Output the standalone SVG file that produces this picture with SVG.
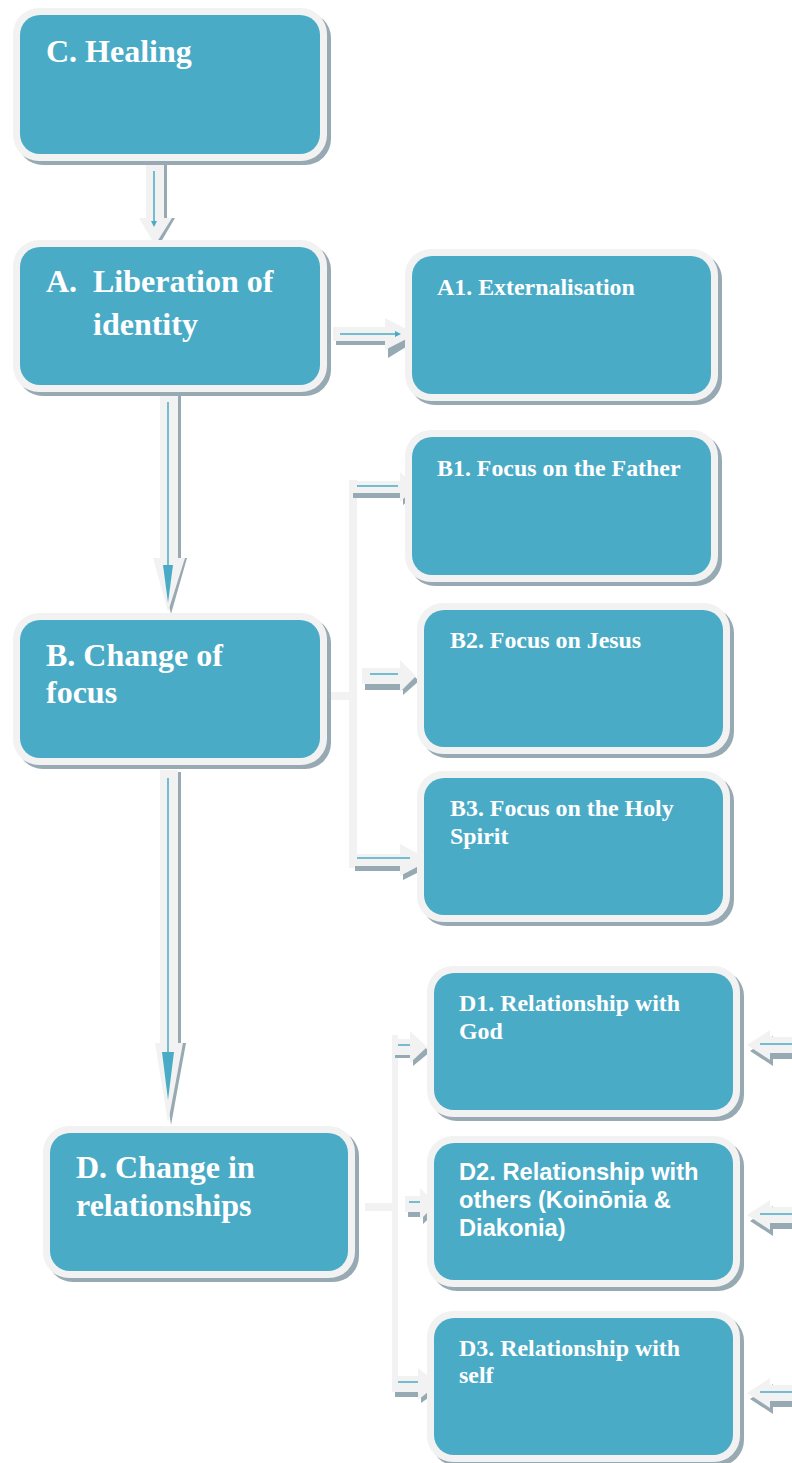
<svg xmlns="http://www.w3.org/2000/svg" width="792" height="1463" viewBox="0 0 792 1463">
<style>
.sh{fill:#97a9b2}
.ob{fill:#f2f2f2}
.ib{fill:#4aabc6}
.t{font-family:"Liberation Serif","Times New Roman",serif;font-weight:bold;fill:#ffffff}
.big{font-size:32px}
.sm{font-size:23.9px}
.sans{font-family:"Liberation Sans",Arial,sans-serif;font-weight:bold;font-size:23.7px;fill:#ffffff}
.ar{fill:#f2f2f2}
.as{fill:#97a9b2}
.bl{stroke:#4aabc6;stroke-width:1.5;fill:none}
.bh{fill:#4aabc6}
.fk{fill:#f2f2f2}
</style>
<rect width="792" height="1463" fill="#ffffff"/>
<g id="connectors">
  <!-- C to A -->
  <path class="as" d="M150 165 H167 V218 H175 L158 247 L143 218 H150 Z"/>
  <path class="ar" d="M146 163 H164 V218 H172 L155 245 L139 218 H146 Z"/>
  <line class="bl" x1="154" y1="171" x2="154" y2="222"/>
  <path class="bh" d="M151 221 H157 L154 227 Z"/>
  <!-- A to B -->
  <path class="as" d="M164 394 H181 V558 H187 L171 614 L157 558 H164 Z"/>
  <path class="ar" d="M160 392 H178 V558 H185 L168 612 L153 558 H160 Z"/>
  <line class="bl" x1="168" y1="402" x2="168" y2="567"/>
  <path class="bh" d="M163 565 H173 L168 603 Z"/>
  <!-- B to D -->
  <path class="as" d="M164 772 H181 V1043 H186 L171 1125 L159 1043 H164 Z"/>
  <path class="ar" d="M160 770 H178 V1043 H183 L168 1123 L155 1043 H160 Z"/>
  <line class="bl" x1="168" y1="778" x2="168" y2="1054"/>
  <path class="bh" d="M162 1052 H174 L168 1100 Z"/>
  <!-- A to A1 -->
  <path class="as" d="M336 332 H388 V321 L419 339 L388 358 V345 H336 Z"/>
  <path class="ar" d="M333 327 H385 V318 L416 334 L385 350 V341 H333 Z"/>
  <line class="bl" x1="340" y1="334" x2="396" y2="334"/>
  <path class="bh" d="M395 331 L401 334 L395 337 Z"/>
  <!-- B fork -->
  <rect class="fk" x="326" y="692" width="31" height="8"/>
  <rect class="fk" x="349" y="480" width="8" height="388"/>
  <path class="as" d="M353 486 H403 V477 L419 492 L403 505 V498 H353 Z"/>
  <path class="ar" d="M350 481 H400 V472 L416 487 L400 502 V493 H350 Z"/>
  <line class="bl" x1="357" y1="486" x2="398" y2="486"/>
  <path class="as" d="M365 674 H403 V665 L419 681 L403 695 V690 H365 Z"/>
  <path class="ar" d="M362 668 H400 V660 L416 676 L400 692 V684 H362 Z"/>
  <line class="bl" x1="370" y1="674" x2="398" y2="674"/>
  <path class="as" d="M355 859 H403 V849 L433 865 L403 880 V871 H355 Z"/>
  <path class="ar" d="M352 854 H400 V844 L430 860 L400 876 V866 H352 Z"/>
  <line class="bl" x1="357" y1="858" x2="410" y2="858"/>
  <!-- D fork -->
  <rect class="fk" x="365" y="1203" width="33" height="8"/>
  <rect class="fk" x="392" y="1035" width="6" height="355"/>
  <path class="as" d="M395 1045 H413 V1036 L430 1052 L413 1066 V1058 H395 Z"/>
  <path class="ar" d="M392 1039 H410 V1031 L427 1047 L410 1063 V1055 H392 Z"/>
  <line class="bl" x1="398" y1="1045" x2="410" y2="1045"/>
  <path class="as" d="M408 1202 H423 V1192 L439 1209 L423 1224 V1217 H408 Z"/>
  <path class="ar" d="M405 1196 H420 V1188 L436 1204 L420 1220 V1212 H405 Z"/>
  <line class="bl" x1="409" y1="1202" x2="420" y2="1202"/>
  <path class="as" d="M395 1382 H421 V1373 L441 1389 L421 1403 V1397 H395 Z"/>
  <path class="ar" d="M392 1376 H418 V1368 L438 1384 L418 1400 V1392 H392 Z"/>
  <line class="bl" x1="398" y1="1382" x2="418" y2="1382"/>
  <!-- Right edge arrows -->
  <path class="as" d="M792 1043 H773 V1036 L750 1051 L773 1066 V1059 H792 Z"/>
  <path class="ar" d="M792 1037 H770 V1030 L747 1045 L770 1060 V1053 H792 Z"/>
  <line class="bl" x1="760" y1="1044" x2="792" y2="1044"/>
  <path class="as" d="M792 1213 H773 V1206 L750 1221 L773 1236 V1229 H792 Z"/>
  <path class="ar" d="M792 1207 H770 V1200 L747 1215 L770 1230 V1223 H792 Z"/>
  <line class="bl" x1="760" y1="1214" x2="792" y2="1214"/>
  <path class="as" d="M792 1391 H773 V1384 L750 1399 L773 1414 V1407 H792 Z"/>
  <path class="ar" d="M792 1385 H770 V1378 L747 1393 L770 1408 V1401 H792 Z"/>
  <line class="bl" x1="760" y1="1392" x2="792" y2="1392"/>
</g>
<g id="nodeC">
  <rect class="sh" x="17" y="12" width="314" height="153" rx="26"/>
  <rect class="ob" x="13" y="8" width="314" height="153" rx="26"/>
  <rect class="ib" x="20" y="15" width="300" height="139" rx="20"/>
  <text class="t big" x="46" y="62">C. Healing</text>
</g>
<g id="nodeA">
  <rect class="sh" x="17" y="244" width="314" height="152" rx="26"/>
  <rect class="ob" x="13" y="240" width="314" height="152" rx="26"/>
  <rect class="ib" x="20" y="247" width="300" height="138" rx="20"/>
  <text class="t big" x="46" y="292">A.</text>
  <text class="t big" x="93" y="292">Liberation of</text>
  <text class="t big" x="93" y="335">identity</text>
</g>
<g id="nodeA1">
  <rect class="sh" x="409" y="253" width="313" height="152" rx="26"/>
  <rect class="ob" x="405" y="249" width="313" height="152" rx="26"/>
  <rect class="ib" x="412" y="256" width="299" height="138" rx="20"/>
  <text class="t sm" x="437" y="295">A1. Externalisation</text>
</g>
<g id="nodeB1">
  <rect class="sh" x="409" y="434" width="313" height="152" rx="26"/>
  <rect class="ob" x="405" y="430" width="313" height="152" rx="26"/>
  <rect class="ib" x="412" y="437" width="299" height="138" rx="20"/>
  <text class="t sm" x="437" y="476">B1. Focus on the Father</text>
</g>
<g id="nodeB">
  <rect class="sh" x="17" y="617" width="314" height="152" rx="26"/>
  <rect class="ob" x="13" y="613" width="314" height="152" rx="26"/>
  <rect class="ib" x="20" y="620" width="300" height="138" rx="20"/>
  <text class="t big" x="46" y="666">B. Change of</text>
  <text class="t big" x="46" y="703">focus</text>
</g>
<g id="nodeB2">
  <rect class="sh" x="421" y="607" width="313" height="151" rx="26"/>
  <rect class="ob" x="417" y="603" width="313" height="151" rx="26"/>
  <rect class="ib" x="424" y="610" width="299" height="137" rx="20"/>
  <text class="t sm" x="450" y="648">B2. Focus on Jesus</text>
</g>
<g id="nodeB3">
  <rect class="sh" x="421" y="775" width="313" height="151" rx="26"/>
  <rect class="ob" x="417" y="771" width="313" height="151" rx="26"/>
  <rect class="ib" x="424" y="778" width="299" height="137" rx="20"/>
  <text class="t sm" x="450" y="816">B3. Focus on the Holy</text>
  <text class="t sm" x="450" y="844">Spirit</text>
</g>
<g id="nodeD1">
  <rect class="sh" x="431" y="970" width="313" height="151" rx="26"/>
  <rect class="ob" x="427" y="966" width="313" height="151" rx="26"/>
  <rect class="ib" x="434" y="973" width="299" height="137" rx="20"/>
  <text class="t sm" x="459" y="1011">D1. Relationship with</text>
  <text class="t sm" x="459" y="1039">God</text>
</g>
<g id="nodeD">
  <rect class="sh" x="47" y="1130" width="312" height="152" rx="26"/>
  <rect class="ob" x="43" y="1126" width="312" height="152" rx="26"/>
  <rect class="ib" x="50" y="1133" width="298" height="138" rx="20"/>
  <text class="t big" x="76" y="1178">D. Change in</text>
  <text class="t big" x="76" y="1216">relationships</text>
</g>
<g id="nodeD2">
  <rect class="sh" x="431" y="1140" width="313" height="151" rx="26"/>
  <rect class="ob" x="427" y="1136" width="313" height="151" rx="26"/>
  <rect class="ib" x="434" y="1143" width="299" height="137" rx="20"/>
  <text class="sans" x="459" y="1180">D2. Relationship with</text>
  <text class="sans" x="459" y="1208">others (Koinōnia &amp;</text>
  <text class="sans" x="459" y="1236">Diakonia)</text>
</g>
<g id="nodeD3">
  <rect class="sh" x="431" y="1315" width="313" height="151" rx="26"/>
  <rect class="ob" x="427" y="1311" width="313" height="151" rx="26"/>
  <rect class="ib" x="434" y="1318" width="299" height="137" rx="20"/>
  <text class="t sm" x="459" y="1356">D3. Relationship with</text>
  <text class="t sm" x="459" y="1383">self</text>
</g>
</svg>
